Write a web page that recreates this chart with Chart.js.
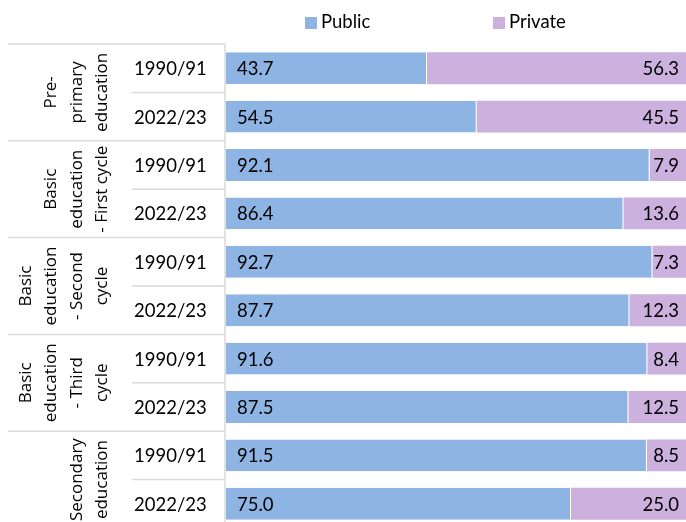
<!DOCTYPE html>
<html>
<head>
<meta charset="utf-8">
<script src="https://cdn.jsdelivr.net/npm/chart.js@4.4.1/dist/chart.umd.min.js"></script>
<style>
  html, body { margin: 0; padding: 0; background: #fff; overflow: hidden; }
  canvas { display: block; }
</style>
</head>
<body>
<canvas id="levelChart" width="686" height="530"></canvas>
<script>
// education levels, already broken into the lines shown on the rotated labels
const levelLines = [
  ["Pre-", "primary", "education"],
  ["Basic", "education", "- First cycle"],
  ["Basic", "education", "- Second", "cycle"],
  ["Basic", "education", "- Third", "cycle"],
  ["Secondary", "education"]
];
const years = ["1990/91", "2022/23"];

const publicShare  = [43.7, 54.5, 92.1, 86.4, 92.7, 87.7, 91.6, 87.5, 91.5, 75.0];
const privateShare = [56.3, 45.5, 7.9, 13.6, 7.3, 12.3, 8.4, 12.5, 8.5, 25.0];

const rowLabels = levelLines.flatMap(l => years.map(y => l.join(" ") + " " + y));

const labelFont = "18.5px Lato, 'Liberation Sans', sans-serif";
const groupFont = "17px 'Open Sans', sans-serif";

const sideLabels = {
    id: "sideLabels",
    afterDatasetsDraw(chart) {
        const ctx = chart.ctx;
        ctx.save();
        ctx.font = labelFont;
        ctx.fillStyle = "#000";
        ctx.textBaseline = "middle";
        chart.data.datasets.forEach((ds, di) => {
            chart.getDatasetMeta(di).data.forEach((bar, i) => {
                const txt = ds.data[i].toFixed(1);
                if (di === 0) {
                    ctx.textAlign = "left";
                    ctx.fillText(txt, bar.base + 11, bar.y + 1);
                } else {
                    ctx.textAlign = "right";
                    ctx.fillText(txt, bar.x - 7, bar.y + 1);
                }
            });
        });
        ctx.restore();
    },
    afterDraw(chart) {
        const ctx = chart.ctx;
        const y = chart.scales.y;
        const step = y.getPixelForValue(1) - y.getPixelForValue(0);
        ctx.save();

        // grid of the label table
        ctx.strokeStyle = "#D9D9D9";
        ctx.lineWidth = 1.5;
        for (let i = 0; i < rowLabels.length; i++) {
            const py = y.getPixelForValue(i) - step / 2;
            ctx.beginPath();
            ctx.moveTo(i % 2 === 0 ? 8 : 132, py);
            ctx.lineTo(225, py);
            ctx.stroke();
        }
        ctx.beginPath();
        ctx.moveTo(225, y.getPixelForValue(0) - step / 2);
        ctx.lineTo(225, chart.height);
        ctx.stroke();

        // year labels
        ctx.fillStyle = "#000";
        ctx.font = labelFont;
        ctx.textAlign = "left";
        ctx.textBaseline = "middle";
        rowLabels.forEach((_, i) => {
            ctx.fillText(years[i % 2], 134, y.getPixelForValue(i) + 1);
        });

        // rotated level labels
        ctx.font = groupFont;
        ctx.textAlign = "center";
        ctx.textBaseline = "alphabetic";
        levelLines.forEach((lines, g) => {
            const cy = (y.getPixelForValue(2 * g) + y.getPixelForValue(2 * g + 1)) / 2;
            lines.forEach((line, k) => {
                const bx = 107 - 25.5 * (lines.length - 1 - k);
                ctx.save();
                ctx.translate(bx, cy);
                ctx.rotate(-Math.PI / 2);
                ctx.fillText(line, 0, 0);
                ctx.restore();
            });
        });

        // legend
        const legendX = [305, 493];
        ctx.font = labelFont;
        ctx.textAlign = "left";
        ctx.textBaseline = "middle";
        chart.data.datasets.forEach((ds, di) => {
            ctx.fillStyle = ds.backgroundColor;
            ctx.fillRect(legendX[di], 17, 12, 12);
            ctx.fillStyle = "#000";
            ctx.fillText(ds.label, legendX[di] + 16, 22);
        });
        ctx.restore();
    }
};

new Chart(document.getElementById("levelChart"), {
    type: "bar",
    data: {
        labels: rowLabels,
        datasets: [{
            label: "Public",
            data: publicShare,
            backgroundColor: "#8DB4E2",
            borderColor: "#FFFFFF",
            borderWidth: { right: 1 },
            borderSkipped: false
        }, {
            label: "Private",
            data: privateShare,
            backgroundColor: "#CCB1DE"
        }]
    },
    options: {
        indexAxis: "y",
        responsive: false,
        animation: false,
        devicePixelRatio: 1,
        categoryPercentage: 1,
        barPercentage: 0.66,
        layout: { padding: { left: 226, right: 0, top: 44, bottom: 2 } },
        plugins: {
            legend: { display: false },
            tooltip: { enabled: false }
        },
        scales: {
            x: { stacked: true, min: 0, max: 100, display: false },
            y: { stacked: true, display: false }
        }
    },
    plugins: [sideLabels]
});
</script>
</body>
</html>
